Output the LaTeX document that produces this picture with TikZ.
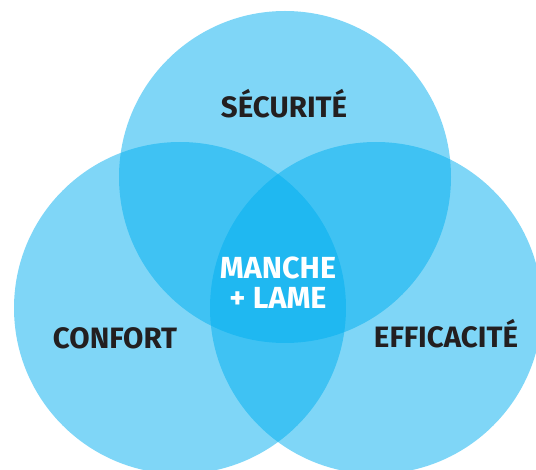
\documentclass[tikz,border=0pt]{standalone}
\usepackage{fontspec}
\setmainfont{Fira Sans}
\definecolor{vennblue}{RGB}{0,174,239}
\definecolor{inkdark}{RGB}{35,31,32}
\tikzset{
  venn/.style={circle,fill=vennblue,fill opacity=0.5,minimum size=332pt,inner sep=0pt},
  vennlabel/.style={text=inkdark,font=\fontsize{29.5}{31}\selectfont\bfseries},
  corelabel/.style={text=white,font=\fontsize{30.5}{30}\selectfont\bfseries,align=center}
}
\begin{document}
\begin{tikzpicture}[x=1pt,y=-1pt]
  \useasboundingbox (0,0) rectangle (536,470);
  \clip (0,0) rectangle (536,470);
  % the three circles
  \node[venn] (secu) at (285,177) {};
  \node[venn] (conf) at (180,308) {};
  \node[venn] (effi) at (376,308) {};
  % labels
  \node[vennlabel] (tsecu) at (284,104) {SÉCURITÉ};
  \node[vennlabel] (tconf) at (115,338) {CONFORT};
  \node[vennlabel] (teffi) at (446,334) {EFFICACITÉ};
  \node[corelabel] (tcore) at (278,283) {MANCHE\\+ LAME};
\end{tikzpicture}
\end{document}
